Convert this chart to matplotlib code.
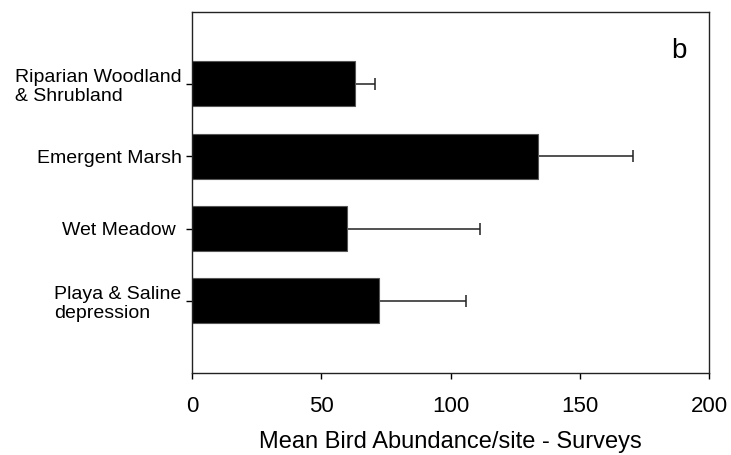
import matplotlib
matplotlib.use("Agg")
import matplotlib.pyplot as plt

categories = ["Playa & Saline\ndepression", "Wet Meadow ", "Emergent Marsh", "Riparian Woodland\n& Shrubland"]
means = [72.2, 60.0, 133.7, 63.0]
errors = [33.6, 51.3, 36.7, 7.7]
x_ticks = [0, 50, 100, 150, 200]

plt.rcParams['font.family'] = ['Liberation Sans', 'DejaVu Sans']

fig = plt.figure(figsize=(7.31, 4.55), dpi=100)
ax = fig.add_axes([0.2627, 0.1796, 0.7076, 0.7951])

pos = list(range(len(categories)))
ax.barh(pos, means, height=0.62, color='black', edgecolor='#555555', linewidth=0.8, zorder=2)
ax.errorbar(means, pos, xerr=[[0]*len(errors), errors], fmt='none', ecolor='#222222',
            elinewidth=1.1, capsize=4, capthick=1.1, zorder=1)

ax.set_xlim(0, 200)
ax.set_ylim(-1, 4)
ax.set_xticks(x_ticks)
ax.set_xticklabels([str(t) for t in x_ticks], fontsize=16)
ax.set_yticks(pos)
ax.set_yticklabels(categories, fontsize=14, linespacing=1.15)
for lbl in ax.get_yticklabels():
    lbl.set_multialignment('left')
ax.tick_params(axis='x', length=4.5, width=1, pad=12, direction='out')
ax.tick_params(axis='y', length=4.5, width=1, pad=3, direction='out')
for s in ax.spines.values():
    s.set_linewidth(1)
    s.set_color('#222222')

ax.set_xlabel("Mean Bird Abundance/site - Surveys", fontsize=17, labelpad=10)
ax.text(0.942, 0.89, "b", transform=ax.transAxes, fontsize=20, ha='center', va='center')

fig.savefig("out.png", dpi=100)
